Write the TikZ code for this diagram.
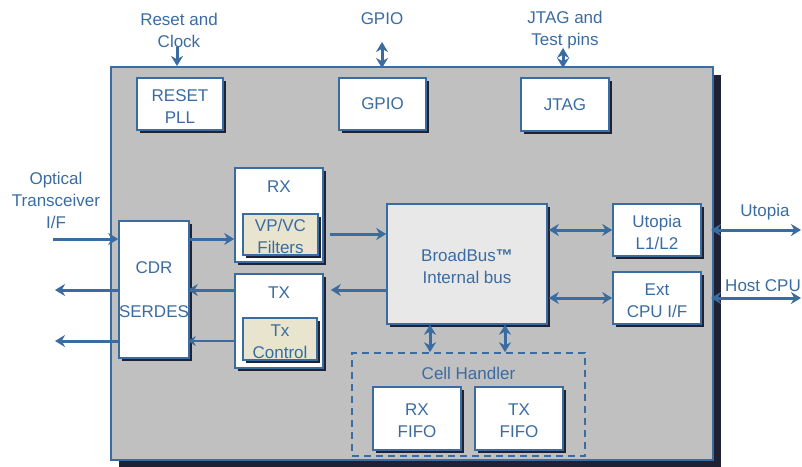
\documentclass[tikz,border=0pt]{standalone}
\usepackage{fontspec}
\setmainfont{Liberation Sans}
\usetikzlibrary{arrows.meta,shadows}

\definecolor{chipblue}{RGB}{58,108,162}
\definecolor{chipgray}{RGB}{192,192,192}
\definecolor{busgray}{RGB}{232,232,232}
\definecolor{filterbeige}{RGB}{232,228,206}
\definecolor{shadowc}{RGB}{30,34,52}

\begin{document}
\begin{tikzpicture}[x=1pt, y=-1pt, >={Stealth[length=10pt,width=12pt]},
    txt/.style={text=chipblue, font=\fontsize{17}{22}\selectfont, align=center},
    blk/.style={txt, draw=chipblue, line width=1.6pt, fill=white, inner sep=0pt,
        general shadow={fill=shadowc, shadow xshift=3pt, shadow yshift=-3pt}},
    twoline/.style={text height=38.5pt, text depth=0pt},
    bus/.style={draw=chipblue, line width=3pt},
    thinbus/.style={draw=chipblue, line width=2pt, >={Stealth[length=8pt,width=10pt]}}]
    \useasboundingbox (0,0) rectangle (802,466);

    % chip outline
    \node[draw=chipblue, fill=chipgray, line width=2pt, inner sep=0pt,
        minimum width=602pt, minimum height=393pt,
        general shadow={fill=shadowc, shadow xshift=8pt, shadow yshift=-8pt}] (chip) at (412,263.5) {};

    \node[blk, twoline, minimum width=86pt, minimum height=52pt] (reset) at (180,104) {RESET\\PLL};
    \node[blk, minimum width=87pt, minimum height=52pt] (gpio) at (382.5,104) {GPIO};
    \node[blk, minimum width=88pt, minimum height=53pt] (jtag) at (565,104.5) {JTAG};

    \node[blk, minimum width=70pt, minimum height=137pt] (cdr) at (154,289.5) {CDR\\[22pt]SERDES};
    \node[blk, minimum width=88pt, minimum height=94pt,
        label={[txt, anchor=north, yshift=-10pt]north:RX}] (rx) at (279,215) {};
    \node[blk, twoline, fill=filterbeige, minimum width=75pt, minimum height=41pt] (filters) at (280.5,234.5) {VP/VC\\Filters};
    \node[blk, minimum width=88pt, minimum height=94pt,
        label={[txt, anchor=north, yshift=-10pt]north:TX}] (tx) at (279,321) {};
    \node[blk, twoline, fill=filterbeige, minimum width=74pt, minimum height=42pt] (txctrl) at (280,339) {Tx\\Control};

    \node[blk, twoline, fill=busgray, minimum width=160pt, minimum height=120pt] (bus) at (467,264) {BroadBus\textbf{™}\\Internal bus};
    \node[blk, twoline, minimum width=88pt, minimum height=52pt] (utopia) at (657,230) {Utopia\\L1/L2};
    \node[blk, twoline, minimum width=88pt, minimum height=52pt] (extcpu) at (657,298) {Ext\\CPU I/F};

    \node[txt, draw=chipblue, line width=1.6pt, dash pattern=on 7pt off 5pt, inner sep=0pt,
        minimum width=233pt, minimum height=103pt,
        label={[txt, anchor=north, yshift=-11pt]north:Cell Handler}] (cell) at (468.5,404.5) {};
    \node[blk, twoline, minimum width=88pt, minimum height=63pt] (rxfifo) at (417,418.5) {RX\\FIFO};
    \node[blk, twoline, minimum width=88pt, minimum height=63pt] (txfifo) at (519,418.5) {TX\\FIFO};

    % outside labels
    \node[txt] (rstlbl) at (179,30) {Reset and\\Clock};
    \node[txt] (gpiolbl) at (382,19) {GPIO};
    \node[txt] (jtaglbl) at (565,30) {JTAG and\\Test pins};
    \node[txt] (optlbl) at (56,200) {Optical\\Transceiver\\I/F};
    \node[txt] (utoplbl) at (765,212) {Utopia};
    \node[txt] (hostlbl) at (763,286) {Host CPU};

    \coordinate (rstin) at (177,47);
    \coordinate (gpioout) at (382,42);
    \coordinate (jtagout) at (563,48);
    \coordinate (optin) at (53,239);
    \coordinate (optout1) at (55,290);
    \coordinate (optout2) at (55,341);
    \coordinate (rxbus) at (330,234);
    \coordinate (utopout) at (801,230);
    \coordinate (hostout) at (801,298);

    \draw[bus,->] (rstin) -- (rstin |- chip.north);
    \draw[bus,<->, shorten >=-2pt] (gpioout) -- (gpioout |- chip.north);
    \draw[bus,<->, shorten >=-2pt] (jtagout) -- (jtagout |- chip.north);

    \draw[bus,->] (optin) -- (optin -| cdr.west);
    \draw[bus,->] (optout1 -| cdr.west) -- (optout1);
    \draw[bus,->] (optout2 -| cdr.west) -- (optout2);
    \draw[bus,->] (optin -| cdr.east) -- (optin -| rx.west);
    \draw[bus,->, shorten >=-2pt] (optout1 -| tx.west) -- (optout1 -| cdr.east);
    \draw[thinbus,->, shorten >=-2pt] (optout2 -| tx.west) -- (optout2 -| cdr.east);

    \draw[bus,->] (rxbus) -- (rxbus -| bus.west);
    \draw[bus,->, shorten >=7pt] (optout1 -| bus.west) -- (optout1 -| tx.east);
    \draw[bus,<->, shorten <=1pt] (utopia.west -| bus.east) -- (utopia.west);
    \draw[bus,<->, shorten <=1pt] (extcpu.west -| bus.east) -- (extcpu.west);
    \draw[bus,<->] ([xshift=-37pt]bus.south) -- ([xshift=-37pt]bus.south |- cell.north);
    \draw[bus,<->] ([xshift=38pt]bus.south) -- ([xshift=38pt]bus.south |- cell.north);

    \draw[bus,<->, shorten <=-3pt] (utopout -| chip.east) -- (utopout);
    \draw[bus,<->, shorten <=-3pt] (hostout -| chip.east) -- (hostout);
\end{tikzpicture}
\end{document}
